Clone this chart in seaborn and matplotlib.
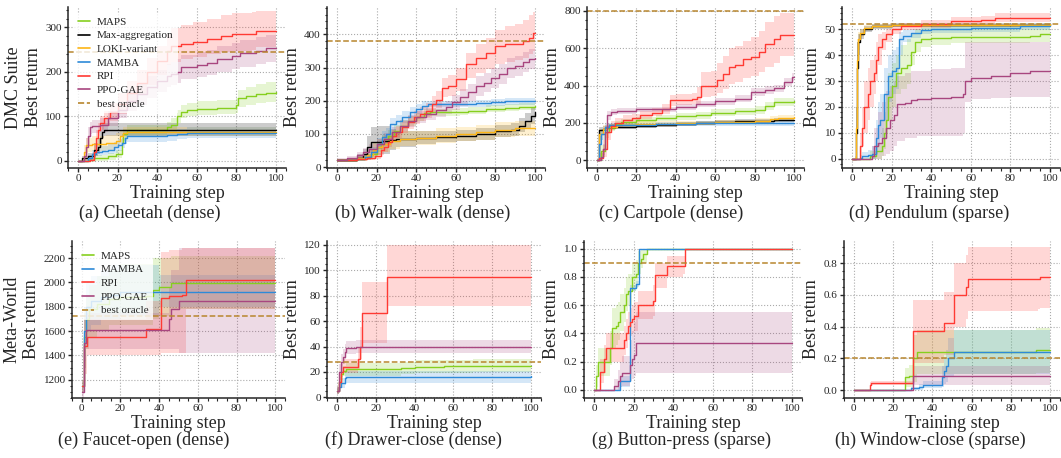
"""
Best-return learning curves on DMC Suite and Meta-World tasks (2x4 panels).
"""
import matplotlib
matplotlib.use('Agg')
import pandas as pd
import matplotlib.pyplot as plt
import seaborn as sns
from matplotlib.lines import Line2D
from matplotlib.ticker import MultipleLocator, AutoMinorLocator

sns.set_style('ticks')
plt.rcParams['font.family'] = ['Liberation Serif', 'DejaVu Serif']
plt.rcParams['axes.linewidth'] = 1.1

METHODS = ['MAPS', 'Max-aggregation', 'LOKI-variant', 'MAMBA', 'RPI', 'PPO-GAE']
COLORS = {
    'MAPS': '#86cf1f',
    'Max-aggregation': '#000000',
    'LOKI-variant': '#fdb515',
    'MAMBA': '#2e8ad8',
    'RPI': '#ff3a33',
    'PPO-GAE': '#a8467f',
}
ORACLE_COLOR = '#b8862e'

CAPTIONS = ['(a) Cheetah (dense)', '(b) Walker-walk (dense)', '(c) Cartpole (dense)',
            '(d) Pendulum (sparse)', '(e) Faucet-open (dense)', '(f) Drawer-close (dense)',
            '(g) Button-press (sparse)', '(h) Window-close (sparse)']
ORACLES = [245, 380, 800, 52, 1720, 28, 0.9, 0.2]
YSTEPS = [100, 100, 200, 10, 200, 20, 0.2, 0.2]

# rows: (training step, best return, band low, band high)
# --- (a) Cheetah
cheetah_maps = [(0, 0, 0, 0), (5, 2, 0, 5), (8, 5, 0, 12), (15, 10, 2, 18), (19, 15, 5, 25),
                (22, 40, 20, 60), (23, 60, 45, 72), (25, 70, 58, 80), (45, 75, 62, 88),
                (47, 80, 65, 95), (50, 100, 85, 115), (52, 110, 95, 125), (55, 115, 100, 130),
                (60, 117, 102, 135), (70, 119, 104, 137), (80, 125, 108, 142), (81, 140, 120, 160),
                (85, 145, 125, 165), (90, 150, 130, 172), (95, 153, 132, 178), (100, 155, 132, 180)]
cheetah_maxagg = [(0, 0, 0, 0), (2, 5, 0, 10), (5, 10, 2, 18), (8, 25, 10, 40), (10, 30, 15, 50),
                  (11, 50, 30, 70), (12, 65, 50, 82), (13, 70, 55, 85), (100, 70, 55, 85)]
cheetah_loki = [(0, 0, 0, 0), (3, 20, 5, 35), (4, 35, 20, 50), (7, 38, 22, 55), (14, 40, 25, 58),
                (19, 45, 30, 62), (21, 55, 40, 70), (23, 62, 50, 75), (25, 65, 55, 76),
                (100, 65, 55, 76)]
cheetah_mamba = [(0, 0, 0, 0), (5, 5, 0, 12), (7, 15, 5, 25), (9, 20, 10, 30), (12, 22, 12, 33),
                 (15, 25, 15, 37), (18, 30, 18, 42), (20, 35, 22, 48), (22, 40, 28, 52),
                 (24, 50, 38, 62), (25, 55, 42, 68), (45, 57, 45, 70), (50, 60, 48, 72),
                 (55, 63, 50, 75), (100, 63, 50, 75)]
cheetah_rpi = [(0, 0, 0, 0), (6, 2, 0, 6), (8, 20, 5, 40), (9, 50, 30, 70), (10, 70, 55, 85),
               (11, 85, 68, 100), (13, 95, 78, 112), (16, 110, 90, 130), (20, 128, 105, 152),
               (25, 152, 128, 180), (30, 176, 150, 205), (35, 200, 170, 232), (40, 224, 192, 258),
               (45, 248, 215, 285), (47, 258, 222, 298), (52, 262, 228, 305), (58, 268, 233, 312),
               (65, 275, 240, 320), (72, 280, 245, 328), (78, 285, 248, 333), (88, 285, 250, 335),
               (90, 292, 255, 338), (100, 292, 255, 338)]
cheetah_ppo = [(0, 0, 0, 0), (3, 10, 0, 20), (4, 30, 10, 50), (5, 55, 35, 75), (6, 75, 60, 88),
               (7, 78, 63, 92), (11, 80, 65, 95), (15, 95, 78, 112), (20, 115, 95, 135),
               (25, 135, 112, 158), (30, 150, 125, 175), (35, 165, 140, 190), (40, 180, 155, 205),
               (45, 190, 165, 218), (47, 195, 170, 222), (50, 200, 175, 228), (52, 210, 183, 238),
               (60, 215, 188, 244), (65, 220, 193, 250), (70, 228, 200, 258), (78, 235, 206, 265),
               (82, 242, 212, 272), (90, 248, 218, 278), (95, 253, 222, 283), (100, 253, 222, 283)]

# --- (b) Walker-walk
walker_maps = [(0, 20, 15, 25), (10, 25, 18, 32), (14, 30, 22, 40), (17, 40, 28, 52), (20, 60, 45, 75),
               (23, 80, 62, 98), (26, 95, 78, 112), (29, 110, 92, 128), (32, 125, 108, 142),
               (36, 140, 125, 155), (40, 150, 138, 162), (44, 162, 150, 174), (47, 165, 155, 176),
               (62, 167, 157, 178), (66, 170, 160, 181), (75, 175, 165, 186), (85, 178, 168, 190),
               (92, 182, 172, 193), (100, 185, 175, 196)]
walker_maxagg = [(0, 20, 15, 25), (10, 28, 20, 38), (13, 38, 25, 55), (15, 60, 30, 95), (17, 75, 35, 120),
                 (20, 75, 35, 125), (23, 80, 40, 125), (27, 82, 50, 115), (30, 85, 60, 110),
                 (40, 88, 68, 108), (50, 92, 75, 110), (60, 95, 78, 112), (70, 100, 82, 118),
                 (80, 110, 92, 128), (88, 113, 95, 132), (92, 125, 105, 148), (95, 140, 118, 162),
                 (98, 155, 130, 178), (100, 165, 140, 188)]
walker_loki = [(0, 20, 15, 25), (10, 26, 18, 35), (15, 35, 22, 50), (18, 50, 30, 75), (20, 60, 35, 85),
               (23, 70, 45, 95), (27, 80, 55, 105), (32, 85, 62, 108), (40, 88, 65, 110),
               (50, 95, 72, 118), (60, 100, 78, 122), (70, 105, 82, 128), (80, 112, 90, 135),
               (90, 117, 95, 140), (100, 117, 95, 140)]
walker_mamba = [(0, 20, 15, 25), (10, 25, 18, 32), (14, 30, 22, 40), (17, 45, 30, 60), (20, 70, 55, 88),
                (23, 90, 72, 108), (25, 100, 82, 118), (27, 130, 112, 148), (30, 140, 122, 158),
                (33, 150, 133, 168), (37, 165, 148, 182), (40, 175, 160, 190), (43, 185, 172, 198),
                (46, 190, 180, 200), (70, 192, 182, 202), (78, 195, 185, 205), (85, 198, 188, 208),
                (100, 200, 190, 210)]
walker_rpi = [(0, 20, 15, 25), (10, 24, 18, 30), (15, 27, 20, 34), (19, 32, 24, 42), (22, 50, 35, 65),
              (24, 60, 45, 75), (26, 75, 60, 92), (28, 95, 78, 112), (30, 105, 88, 124),
              (33, 120, 102, 140), (36, 135, 115, 155), (39, 150, 130, 170), (42, 160, 140, 182),
              (45, 170, 148, 192), (48, 190, 165, 215), (50, 203, 178, 230), (53, 240, 210, 270),
              (56, 245, 215, 278), (60, 265, 230, 300), (65, 310, 268, 343), (70, 330, 285, 370),
              (75, 345, 295, 390), (80, 365, 312, 415), (85, 370, 318, 425), (90, 372, 322, 432),
              (94, 380, 330, 445), (97, 390, 340, 458), (99, 405, 350, 468), (100, 405, 350, 468)]
walker_ppo = [(0, 22, 17, 27), (5, 27, 20, 34), (10, 35, 26, 44), (13, 45, 34, 56), (16, 55, 42, 68),
              (20, 70, 55, 85), (24, 85, 68, 102), (28, 105, 88, 122), (32, 125, 108, 142),
              (36, 140, 122, 158), (40, 150, 132, 168), (45, 160, 142, 178), (50, 172, 152, 192),
              (55, 180, 160, 200), (58, 195, 172, 218), (62, 210, 185, 235), (66, 225, 198, 252),
              (70, 245, 215, 275), (74, 255, 225, 285), (78, 270, 240, 300), (82, 280, 250, 310),
              (86, 298, 268, 328), (90, 305, 275, 335), (94, 318, 288, 348), (97, 325, 295, 355),
              (100, 330, 300, 360)]

# --- (c) Cartpole
cartpole_maps = [(0, 0, 0, 0), (2, 50, 20, 80), (4, 150, 120, 175), (6, 175, 155, 195), (9, 195, 178, 212),
                 (12, 205, 188, 222), (20, 215, 198, 232), (30, 225, 208, 242), (40, 235, 218, 252),
                 (50, 240, 222, 258), (58, 255, 236, 274), (70, 262, 242, 282), (80, 270, 250, 292),
                 (85, 290, 268, 312), (90, 310, 288, 335), (100, 315, 290, 340)]
cartpole_maxagg = [(0, 0, 0, 0), (1, 160, 140, 180), (3, 170, 155, 185), (5, 180, 168, 192),
                   (20, 185, 175, 195), (30, 190, 180, 200), (40, 195, 185, 205), (50, 200, 190, 210),
                   (60, 205, 195, 215), (70, 210, 200, 220), (90, 215, 205, 225), (100, 215, 205, 225)]
cartpole_loki = [(0, 0, 0, 0), (1, 140, 110, 170), (3, 170, 150, 190), (5, 180, 165, 195),
                 (10, 190, 178, 202), (20, 195, 182, 208), (40, 200, 188, 212), (60, 205, 192, 218),
                 (80, 210, 195, 225), (88, 220, 205, 238), (92, 228, 212, 245), (100, 230, 215, 248)]
cartpole_mamba = [(0, 0, 0, 0), (1, 90, 50, 130), (2, 140, 110, 170), (4, 180, 165, 195),
                  (6, 190, 178, 202), (30, 195, 183, 207), (50, 198, 186, 210), (100, 200, 188, 212)]
cartpole_rpi = [(0, 0, 0, 0), (1, 10, 0, 40), (3, 60, 20, 110), (5, 150, 110, 190), (7, 185, 160, 210),
                (9, 200, 180, 225), (13, 215, 195, 240), (18, 225, 205, 250), (22, 240, 220, 265),
                (28, 255, 235, 280), (33, 275, 250, 300), (37, 320, 290, 350), (40, 325, 295, 355),
                (48, 330, 300, 360), (51, 340, 300, 390), (53, 400, 340, 470), (58, 400, 345, 480),
                (61, 430, 360, 520), (64, 460, 380, 560), (67, 500, 410, 600), (70, 510, 420, 610),
                (74, 540, 440, 640), (78, 550, 450, 660), (82, 580, 470, 690), (85, 620, 500, 740),
                (90, 650, 520, 770), (93, 670, 560, 790), (100, 670, 560, 790)]
cartpole_ppo = [(0, 0, 0, 0), (2, 20, 5, 40), (3, 60, 30, 90), (4, 150, 110, 190), (5, 240, 215, 262),
                (7, 258, 240, 275), (10, 265, 250, 280), (20, 272, 258, 286), (30, 272, 258, 286),
                (40, 285, 270, 300), (50, 300, 285, 316), (60, 315, 298, 332), (70, 330, 312, 348),
                (78, 365, 345, 385), (85, 375, 355, 395), (90, 385, 365, 405), (95, 420, 400, 440),
                (99, 445, 425, 465), (100, 445, 425, 465)]

# --- (d) Pendulum
pendulum_maps = [(0, 0, 0, 0), (7, 0, 0, 0), (9, 1, 0, 3), (12, 3, 0, 6), (15, 5, 1, 12), (16, 10, 4, 18),
                 (17, 15, 8, 25), (18, 24, 15, 33), (20, 28, 20, 37), (22, 33, 25, 40), (25, 35, 27, 44),
                 (28, 36, 29, 46), (30, 41, 36, 48), (32, 45, 41, 50), (35, 46, 43, 51),
                 (40, 46.5, 44, 51), (50, 47, 44.5, 51), (80, 47, 44.5, 51), (90, 47.5, 45, 51.5),
                 (95, 48, 45, 52), (100, 48, 45, 52)]
pendulum_maxagg = [(0, 0, 0, 0), (1.5, 0, 0, 0), (2, 10, 5, 20), (2.5, 35, 25, 45), (3, 45, 40, 48),
                   (4, 48, 46, 50), (6, 50, 49, 51), (10, 51, 50, 52), (20, 51.5, 50.8, 52.2),
                   (100, 51.8, 51, 52.5)]
pendulum_loki = [(0, 0, 0, 0), (1.5, 0.5, 0, 1), (2, 12, 5, 20), (2.5, 38, 28, 46), (3, 46, 42, 49),
                 (4, 48.5, 47, 50), (6, 50.5, 49.5, 51.5), (10, 51, 50.5, 51.8), (20, 51.5, 51, 52),
                 (100, 51.8, 51.2, 52.4)]
pendulum_mamba = [(0, 0, 0, 0), (4, 0.5, 0, 1.5), (5, 1, 0, 2.5), (8, 1.5, 0, 3.5), (10, 2, 0, 5),
                  (12, 8, 2, 15), (13, 13, 5, 22), (14, 15, 8, 25), (16, 25, 15, 35), (18, 32, 22, 40),
                  (20, 34, 25, 42), (22, 35, 27, 43), (24, 46, 40, 49), (26, 47.5, 45, 49.5),
                  (30, 48.5, 46.5, 50), (35, 49.5, 48, 50.5), (40, 50, 48.5, 51), (60, 50.5, 49, 51.5),
                  (85, 51, 49.5, 52), (100, 51, 49.5, 52)]
pendulum_rpi = [(0, 0, 0, 0), (3, 0, 0, 0), (4, 5, 0, 10), (5, 12, 5, 20), (6, 20, 10, 30), (8, 25, 15, 35),
                (9, 30, 20, 38), (11, 33, 25, 40), (12, 38, 30, 45), (13, 43, 36, 48), (15, 46, 42, 49),
                (17, 48, 45, 50), (20, 50, 48, 51.5), (25, 51, 49.5, 52.5), (35, 52, 50.5, 53.5),
                (50, 53, 51.5, 54.5), (65, 53.5, 52, 55), (72, 54.3, 52.8, 56), (100, 54.3, 52.8, 56)]
pendulum_ppo = [(0, 0, 0, 0), (7, 0, 0, 0), (10, 1, 0, 5), (11, 5, 0, 12), (13, 6, 0, 18), (15, 8, 1, 22),
                (17, 12, 2, 26), (19, 15, 3, 28), (21, 17, 5, 30), (23, 21, 7, 32), (27, 21.5, 8, 33),
                (30, 22.5, 8, 34), (33, 23, 9, 34), (40, 23.5, 9, 34.5), (50, 24, 9, 35), (56, 25, 10, 35),
                (57, 30, 22, 45), (60, 31, 23, 45), (70, 32, 23.5, 45), (80, 33, 24, 45), (90, 34, 24, 45),
                (100, 34, 24, 45)]

# --- (e) Faucet-open
faucet_maps = [(0, 1150, 1100, 1200), (1, 1550, 1300, 1750), (2, 1700, 1450, 1900), (4, 1780, 1550, 1980),
               (8, 1820, 1600, 2050), (14, 1860, 1650, 2100), (20, 1880, 1650, 2150), (33, 1885, 1650, 2150),
               (37, 1940, 1700, 2200), (40, 1960, 1720, 2200), (46, 1995, 1780, 2220), (100, 1995, 1780, 2220)]
faucet_mamba = [(0, 1150, 1100, 1200), (1, 1600, 1350, 1800), (2, 1800, 1600, 2000), (5, 1850, 1650, 2050),
                (10, 1880, 1700, 2100), (15, 1900, 1700, 2140), (20, 1925, 1720, 2140), (40, 1925, 1800, 2060),
                (100, 1925, 1800, 2060)]
faucet_rpi = [(0, 1150, 1100, 1200), (1, 1480, 1250, 1700), (3, 1550, 1400, 1700), (32, 1555, 1400, 1700),
              (33, 1620, 1400, 1850), (40, 1620, 1400, 1850), (41, 1870, 1420, 2250), (45, 1890, 1420, 2270),
              (52, 1900, 1420, 2280), (54, 2020, 1780, 2280), (100, 2020, 1780, 2260)]
faucet_ppo = [(0, 1100, 1050, 1150), (1, 1500, 1300, 1700), (2, 1605, 1450, 1750), (44, 1605, 1450, 1750),
              (45, 1700, 1450, 1950), (46, 1780, 1450, 2100), (49, 1780, 1450, 2100), (50, 1850, 1420, 2280),
              (100, 1850, 1420, 2280)]

# --- (f) Drawer-close
drawer_maps = [(0, 5, 3, 8), (1, 12, 8, 16), (2, 18, 14, 22), (3, 21, 17, 25), (5, 22, 17, 27), (30, 22, 17, 27),
               (33, 23, 18, 28), (40, 24, 19, 29), (55, 24.5, 19.5, 29.5), (70, 25, 20, 30), (100, 25, 20, 30)]
drawer_mamba = [(0, 5, 3, 8), (1, 8, 5, 11), (2, 11, 7, 15), (4, 15, 10, 20), (5, 16, 11, 21),
                (100, 16.5, 11.5, 21.5)]
drawer_rpi = [(0, 5, 3, 8), (1, 12, 8, 18), (2, 20, 16, 26), (3, 24, 19, 30), (10, 24, 19, 30), (11, 30, 22, 40),
              (12, 40, 30, 55), (13, 66, 43, 91), (25, 66, 43, 91), (26, 95, 72, 120), (100, 95, 72, 120)]
drawer_ppo = [(0, 5, 3, 8), (1, 20, 14, 26), (2, 28, 22, 34), (3, 32, 26, 38), (4, 36, 30, 42), (5, 39, 34, 44),
              (9, 39, 34, 44), (10, 40, 35, 45), (100, 40, 35, 45)]

# --- (g) Button-press
button_maps = [(0, 0, 0, 0), (1, 0.1, 0.02, 0.18), (2, 0.2, 0.1, 0.3), (7, 0.2, 0.1, 0.3), (8, 0.3, 0.18, 0.42),
               (9, 0.44, 0.3, 0.58), (11, 0.45, 0.32, 0.6), (12, 0.48, 0.35, 0.62), (13, 0.55, 0.42, 0.68),
               (15, 0.6, 0.48, 0.72), (16, 0.68, 0.56, 0.8), (17, 0.7, 0.6, 0.82), (19, 0.8, 0.7, 0.9),
               (21, 0.82, 0.72, 0.92), (22, 0.9, 0.82, 0.98), (24, 0.93, 0.86, 1.0), (25, 0.96, 0.9, 1.0),
               (27, 1.0, 1.0, 1.0), (100, 1.0, 1.0, 1.0)]
button_mamba = [(0, 0, 0, 0), (12, 0, 0, 0.02), (13, 0.06, 0.02, 0.1), (17, 0.06, 0.02, 0.1),
                (18, 0.72, 0.7, 0.74), (21, 0.75, 0.73, 0.77), (23, 1.0, 1.0, 1.0), (100, 1.0, 1.0, 1.0)]
button_rpi = [(0, 0, 0, 0), (2, 0, 0, 0), (3, 0.13, 0.05, 0.22), (5, 0.22, 0.12, 0.32), (6, 0.3, 0.2, 0.4),
              (13, 0.3, 0.2, 0.4), (15, 0.35, 0.25, 0.45), (16, 0.4, 0.3, 0.5), (17, 0.45, 0.35, 0.55),
              (18, 0.48, 0.38, 0.58), (19, 0.5, 0.4, 0.6), (20, 0.52, 0.42, 0.62), (22, 0.6, 0.5, 0.7),
              (30, 0.63, 0.52, 0.74), (31, 0.81, 0.72, 0.9), (35, 0.81, 0.72, 0.9), (37, 0.88, 0.8, 0.95),
              (45, 0.88, 0.82, 0.95), (46, 1.0, 1.0, 1.0), (100, 1.0, 1.0, 1.0)]
button_ppo = [(0, 0, 0, 0), (8, 0, 0, 0), (10, 0.03, 0, 0.08), (12, 0.06, 0, 0.14), (13, 0.1, 0.02, 0.2),
              (14, 0.12, 0.03, 0.24), (17, 0.12, 0.03, 0.24), (18, 0.18, 0.06, 0.35), (19, 0.22, 0.08, 0.42),
              (20, 0.25, 0.1, 0.48), (21, 0.33, 0.12, 0.55), (100, 0.33, 0.12, 0.55)]

# --- (h) Window-close
window_maps = [(0, 0, 0, 0), (25, 0, 0, 0), (26, 0.08, 0.02, 0.14), (28, 0.09, 0.02, 0.16), (30, 0.2, 0.05, 0.35),
               (32, 0.24, 0.1, 0.38), (92, 0.24, 0.1, 0.38), (93, 0.25, 0.11, 0.39), (100, 0.25, 0.11, 0.39)]
window_mamba = [(0, 0, 0, 0), (28, 0, 0, 0), (29, 0.01, 0, 0.02), (33, 0.02, 0, 0.04), (35, 0.03, 0.01, 0.06),
                (43, 0.03, 0.01, 0.06), (45, 0.08, 0.02, 0.15), (46, 0.12, 0.04, 0.2), (47, 0.15, 0.05, 0.25),
                (48, 0.2, 0.08, 0.33), (51, 0.24, 0.1, 0.38), (100, 0.24, 0.1, 0.38)]
window_rpi = [(0, 0, 0, 0), (7, 0, 0, 0), (8, 0.03, 0.01, 0.05), (9, 0.045, 0.03, 0.06), (29, 0.045, 0.03, 0.06),
              (30, 0.37, 0.17, 0.57), (45, 0.37, 0.17, 0.57), (46, 0.42, 0.22, 0.62), (50, 0.42, 0.22, 0.62),
              (51, 0.6, 0.4, 0.8), (56, 0.6, 0.4, 0.8), (57, 0.65, 0.45, 0.85), (58, 0.7, 0.5, 0.9),
              (94, 0.7, 0.51, 0.9), (95, 0.71, 0.52, 0.9), (100, 0.71, 0.52, 0.9)]
window_ppo = [(0, 0, 0, 0), (29, 0, 0, 0), (30, 0.09, 0.03, 0.15), (100, 0.09, 0.03, 0.15)]

PANEL_SERIES = [
    {'MAPS': cheetah_maps, 'Max-aggregation': cheetah_maxagg, 'LOKI-variant': cheetah_loki,
     'MAMBA': cheetah_mamba, 'RPI': cheetah_rpi, 'PPO-GAE': cheetah_ppo},
    {'MAPS': walker_maps, 'Max-aggregation': walker_maxagg, 'LOKI-variant': walker_loki,
     'MAMBA': walker_mamba, 'RPI': walker_rpi, 'PPO-GAE': walker_ppo},
    {'MAPS': cartpole_maps, 'Max-aggregation': cartpole_maxagg, 'LOKI-variant': cartpole_loki,
     'MAMBA': cartpole_mamba, 'RPI': cartpole_rpi, 'PPO-GAE': cartpole_ppo},
    {'MAPS': pendulum_maps, 'Max-aggregation': pendulum_maxagg, 'LOKI-variant': pendulum_loki,
     'MAMBA': pendulum_mamba, 'RPI': pendulum_rpi, 'PPO-GAE': pendulum_ppo},
    {'MAPS': faucet_maps, 'MAMBA': faucet_mamba, 'RPI': faucet_rpi, 'PPO-GAE': faucet_ppo},
    {'MAPS': drawer_maps, 'MAMBA': drawer_mamba, 'RPI': drawer_rpi, 'PPO-GAE': drawer_ppo},
    {'MAPS': button_maps, 'MAMBA': button_mamba, 'RPI': button_rpi, 'PPO-GAE': button_ppo},
    {'MAPS': window_maps, 'MAMBA': window_mamba, 'RPI': window_rpi, 'PPO-GAE': window_ppo},
]

# layout in pixels of the 1061x458 figure: (left, right, top, bottom), y limits, caption centre
FIG_W, FIG_H = 1061, 458
AX_BOX = [(68, 286, 7, 168), (327, 545, 7, 168), (587, 804, 7, 168), (842, 1060, 7, 168),
          (72, 285, 241, 398), (327, 541, 241, 398), (584, 802, 241, 398), (844, 1060, 241, 398)]
YLIMS = [(-16.5, 346), (-3, 483), (-41, 820), (-3.5, 58.5),
         (1050, 2340), (-0.5, 123), (-0.057, 1.054), (-0.05, 0.94)]
CAPTION_POS = [(150, 213), (423, 213), (671, 213), (929, 213),
               (144, 440), (413, 440), (681, 440), (930, 440)]


def to_frame(series):
    rows = []
    for method, pts in series.items():
        for step, ret, lo, hi in pts:
            rows.append({'step': step, 'ret': ret, 'lo': lo, 'hi': hi, 'method': method})
    return pd.DataFrame(rows)


def draw_panel(ax, series, oracle):
    df = to_frame(series)
    order = [m for m in METHODS if m in series]
    for m in order:
        d = df[df['method'] == m]
        ax.fill_between(d['step'], d['lo'], d['hi'], step='post',
                        color=COLORS[m], alpha=0.2, lw=0)
    sns.lineplot(data=df, x='step', y='ret', hue='method', hue_order=order,
                 palette=COLORS, estimator=None, errorbar=None, drawstyle='steps-post',
                 lw=1.0, legend=False, ax=ax)
    ax.axhline(oracle, color=ORACLE_COLOR, ls='--', lw=1.1)
    return order


def legend_handles(order):
    handles = [Line2D([], [], color=COLORS[m], lw=1.2, label=m) for m in order]
    handles.append(Line2D([], [], color=ORACLE_COLOR, lw=1.2, ls='--', label='best oracle'))
    return handles


fig = plt.figure(figsize=(FIG_W / 100, FIG_H / 100), dpi=100)

for i in range(8):
    left, right, top, bottom = AX_BOX[i]
    ax = fig.add_axes([left / FIG_W, 1 - bottom / FIG_H,
                       (right - left) / FIG_W, (bottom - top) / FIG_H])
    order = draw_panel(ax, PANEL_SERIES[i], ORACLES[i])

    ax.set_xlim(-5, 105)
    ax.set_ylim(*YLIMS[i])
    ax.xaxis.set_major_locator(MultipleLocator(20))
    ax.yaxis.set_major_locator(MultipleLocator(YSTEPS[i]))
    ax.xaxis.set_minor_locator(AutoMinorLocator())
    ax.yaxis.set_minor_locator(AutoMinorLocator())
    ax.tick_params(which='major', length=3, width=1, pad=1.5, labelsize=8)
    ax.tick_params(which='minor', length=1.8, width=0.8)
    ax.grid(True, which='major', ls=':', color='#aaaaaa', lw=0.8)
    sns.despine(ax=ax)

    ax.set_xlabel('Training step', fontsize=13, labelpad=1)
    if i == 0:
        ylabel = 'DMC Suite\nBest return'
    elif i == 4:
        ylabel = 'Meta-World\nBest return'
    else:
        ylabel = 'Best return'
    ax.set_ylabel(ylabel, fontsize=13, labelpad=2.5)

    if i in (0, 4):
        ax.legend(handles=legend_handles(order), loc='upper left', fontsize=8,
                  handlelength=1.1, handletextpad=0.6, labelspacing=0.35,
                  framealpha=0.8, edgecolor='none', fancybox=False)

    cx, cy = CAPTION_POS[i]
    fig.text(cx / FIG_W, 1 - cy / FIG_H, CAPTIONS[i], ha='center', va='center', fontsize=13)

fig.savefig('out.png', dpi=100)
